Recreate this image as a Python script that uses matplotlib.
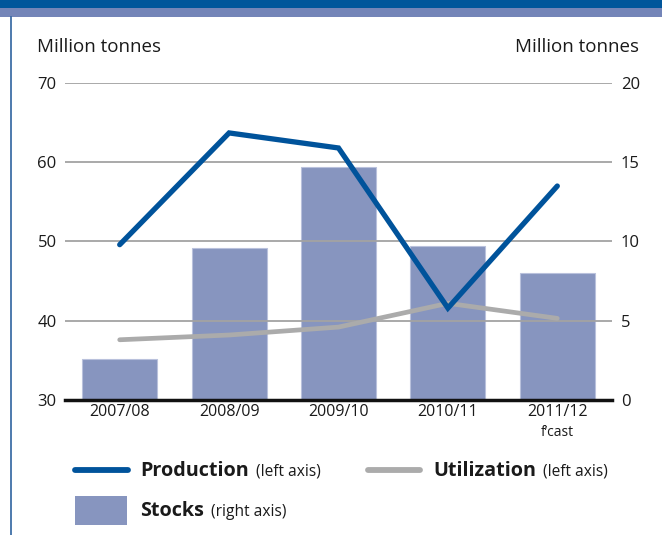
import matplotlib
matplotlib.use("Agg")
import matplotlib.pyplot as plt
from matplotlib.lines import Line2D
from matplotlib.patches import Rectangle
import numpy as np

categories = ["2007/08", "2008/09", "2009/10", "2010/11", "2011/12"]
sub_labels = ["", "", "", "", "f\u2019cast"]
production = [49.6, 63.7, 61.8, 41.6, 57.0]
utilization = [37.6, 38.2, 39.2, 42.2, 40.3]
stocks = [2.6, 9.6, 14.7, 9.7, 8.0]
left_ticks = [30, 40, 50, 60, 70]
right_ticks = [0, 5, 10, 15, 20]

W, H = 662, 535
FONT = "Open Sans"
plt.rcParams['font.family'] = [FONT, 'DejaVu Sans']

C_PROD = "#00539b"
C_UTIL = "#ababab"
C_BAR = "#8795bf"
C_GRID = "#a3a3a3"
C_TEXT = "#1a1a1a"

fig = plt.figure(figsize=(W / 100, H / 100), dpi=100)

def fx(x):
    return x / W

def fy(y):
    return 1 - y / H

# header bands and border
fig.add_artist(Rectangle((0, fy(8)), 1, 8 / H, transform=fig.transFigure, color="#00569b", lw=0))
fig.add_artist(Rectangle((0, fy(17)), 1, 9 / H, transform=fig.transFigure, color="#7485b8", lw=0))
fig.add_artist(Line2D([fx(11), fx(11)], [fy(17), 0], transform=fig.transFigure, color="#2f63a0", lw=1.2))

ax = fig.add_axes([fx(65), fy(400), fx(612) - fx(65), (400 - 83) / H])
ax2 = ax.twinx()

x = np.arange(len(categories))

# bars on right axis
ax2.bar(x, stocks, width=0.685, color=C_BAR, edgecolor="#b9c1dc", linewidth=0.8, zorder=2)
ax2.set_ylim(0, 20)

ax.set_ylim(30, 70)
ax.set_xlim(-0.5, 4.5)

for t in left_ticks[1:]:
    ax.axhline(t, color=C_GRID, lw=1.3, zorder=0)

ax.set_zorder(ax2.get_zorder() + 1)
ax.patch.set_visible(False)

ax.plot(x, utilization, color=C_UTIL, lw=3.4, solid_capstyle="round", solid_joinstyle="round", zorder=3)
ax.plot(x, production, color=C_PROD, lw=3.8, solid_capstyle="round", solid_joinstyle="miter", zorder=4)

ax.axhline(30, color="#111111", lw=2.5, zorder=5, clip_on=False)

for a in (ax, ax2):
    for s in a.spines.values():
        s.set_visible(False)
    a.tick_params(length=0, labelsize=12, colors=C_TEXT)

ax.set_yticks(left_ticks)
ax.set_yticklabels([str(t) for t in left_ticks])
ax.tick_params(axis="y", pad=6)
ax2.set_yticks(right_ticks)
ax2.set_yticklabels([str(t) for t in right_ticks])
ax2.tick_params(axis="y", pad=6.5)

ax.set_xticks(x)
ax.set_xticklabels(categories)
ax.tick_params(axis="x", pad=3, labelsize=11.5)
for xi, s in zip(x, sub_labels):
    if s:
        ax.annotate(s, xy=(xi, 0), xycoords=("data", "axes fraction"), xytext=(0, -18),
                    textcoords="offset points", ha="center", va="top", fontsize=10, color=C_TEXT)

fig.text(fx(37), fy(47), "Million tonnes", fontsize=13.5, color=C_TEXT, va="center", ha="left")
fig.text(fx(639), fy(47), "Million tonnes", fontsize=13.5, color=C_TEXT, va="center", ha="right")

# legend
fig.add_artist(Line2D([fx(75), fx(128)], [fy(470), fy(470)], transform=fig.transFigure,
                      color=C_PROD, lw=4.2, solid_capstyle="round"))
fig.add_artist(Line2D([fx(368), fx(420)], [fy(470), fy(470)], transform=fig.transFigure,
                      color=C_UTIL, lw=4.2, solid_capstyle="round"))
fig.add_artist(Rectangle((fx(75), fy(525)), (127 - 75) / W, (525 - 496) / H,
                         transform=fig.transFigure, color=C_BAR, lw=0))

fig.canvas.draw()
renderer = fig.canvas.get_renderer()

def legend_label(xp, yp, bold, rest):
    t = fig.text(fx(xp), fy(yp), bold, fontsize=14.2, fontweight="bold", color=C_TEXT,
                 va="baseline", ha="left")
    bb = t.get_window_extent(renderer=renderer)
    x2 = (bb.x1 + 7) / fig.bbox.width
    fig.text(x2, fy(yp), rest, fontsize=11.2, color=C_TEXT, va="baseline", ha="left")

legend_label(140, 476, "Production", "(left axis)")
legend_label(433, 476, "Utilization", "(left axis)")
legend_label(140, 516, "Stocks", "(right axis)")

fig.savefig("out.png", dpi=100)
